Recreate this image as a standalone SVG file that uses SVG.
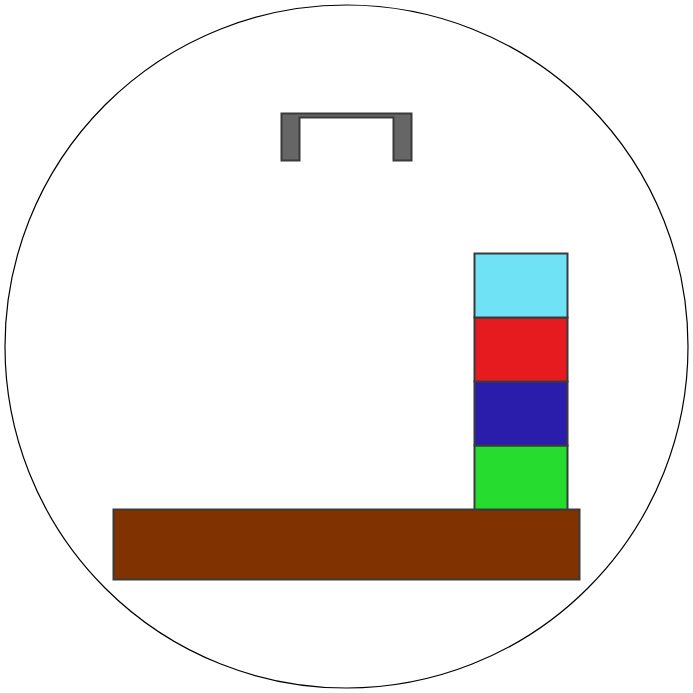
<svg xmlns="http://www.w3.org/2000/svg" width="693" height="693" viewBox="0 0 693 693">
<style>
.b{stroke:#3a3a3a;stroke-width:2}
</style>
<rect width="693" height="693" fill="#fff"/>
<circle cx="346.5" cy="346.5" r="341.5" fill="none" stroke="#000" stroke-width="1.2"/>
<g id="gripper"><path class="b" fill="#666" d="M281.5,113.5H411.5V160.5H393.5V117.5H299.5V160.5H281.5Z"/></g>
<g id="table"><rect class="b" x="113.5" y="509.5" width="466" height="70" fill="#803300"/></g>
<g id="block-green"><rect class="b" x="474.5" y="445.5" width="93" height="64" fill="#26dd2f"/></g>
<g id="block-blue"><rect class="b" x="474.5" y="381.5" width="93" height="64" fill="#2b1dab"/></g>
<g id="block-red"><rect class="b" x="474.5" y="317.5" width="93" height="64" fill="#e51b1f"/></g>
<g id="block-cyan"><rect class="b" x="474.5" y="253.5" width="93" height="64" fill="#6fe2f5"/></g>
</svg>
